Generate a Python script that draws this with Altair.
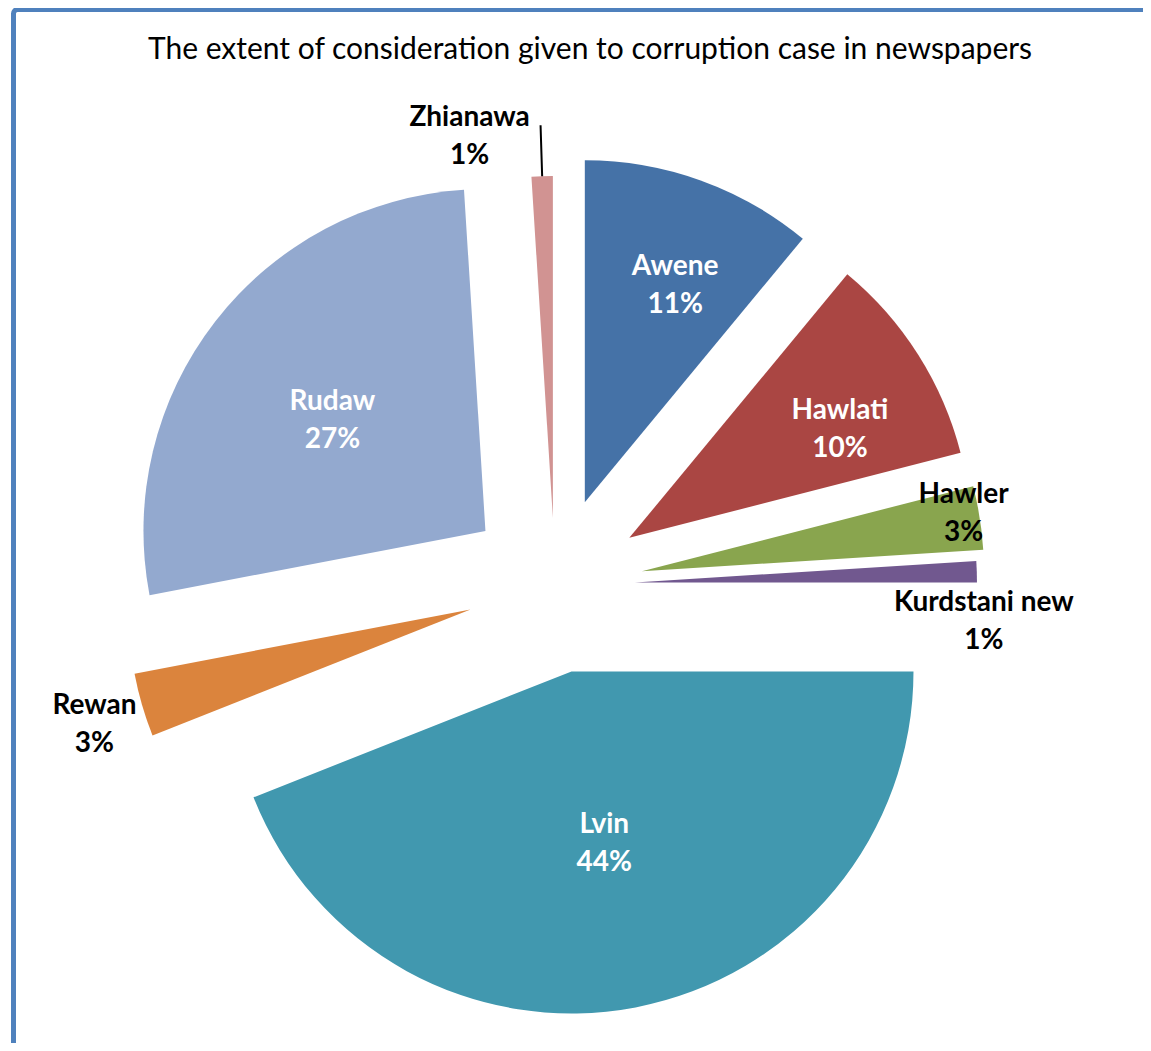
import altair as alt
import pandas as pd

# ---- data ----
CATEGORIES = ["Awene", "Hawlati", "Hawler", "Kurdstani new", "Lvin", "Rewan", "Rudaw", "Zhianawa"]
VALUES = [11, 10, 3, 1, 44, 3, 27, 1]
TITLE = "The extent of consideration given to corruption case in newspapers"

# ---- styles ----
COLORS = ["#4572A7", "#AA4643", "#89A54E", "#71588F", "#4198AF", "#DB843D", "#93A9CF", "#D19392"]
EXPLODE = [88, 88, 88, 80, 88, 88, 88, 67]          # px offset of each slice
LABEL_R = [235, 237, 327, 351, 175, 393, 189, 391]  # label distance from slice tip
LABEL_DT = [2.8, 5.1, -1.3, 8.1, 0, -0.7, -1.9, -10.5]  # label angle nudge (deg)
LABEL_COLOR = ["white", "white", "black", "black", "white", "black", "white", "black"]
LEADER = [0, 0, 0, 0, 0, 0, 0, 1]
CX, CY, R = 547, 577, 342
W, H = 1135, 1035
FONT = "Lato"

df = pd.DataFrame({
    "order": list(range(len(CATEGORIES))),
    "cat": CATEGORIES,
    "value": VALUES,
    "explode": EXPLODE,
    "lr": LABEL_R,
    "ldt": LABEL_DT,
    "lcolor": LABEL_COLOR,
    "leader": LEADER,
})

base = alt.Chart(df).transform_window(
    cum="sum(value)", sort=[alt.SortField("order")], frame=[None, 0]
).transform_joinaggregate(
    total="sum(value)"
).transform_calculate(
    t0="(datum.cum - datum.value) / datum.total * 2 * PI",
    t1="datum.cum / datum.total * 2 * PI",
).transform_calculate(
    mid="(datum.t0 + datum.t1) / 2",
).transform_calculate(
    px=f"{CX} + datum.explode * sin(datum.mid)",
    py=f"{CY} - datum.explode * cos(datum.mid)",
    ltheta="datum.mid + datum.ldt * PI / 180",
    label="[datum.cat, datum.value + '%']",
)

arcs = base.mark_arc(outerRadius=R, innerRadius=0).encode(
    theta=alt.Theta("t0:Q", scale=None, stack=None),
    theta2="t1:Q",
    x=alt.X("px:Q", scale=None),
    y=alt.Y("py:Q", scale=None),
    color=alt.Color("cat:N", scale=alt.Scale(domain=CATEGORIES, range=COLORS), legend=None),
)

labels = base.mark_text(
    font=FONT, fontSize=28, fontWeight="bold", lineHeight=38,
    align="center", baseline="middle", dy=-18,
).encode(
    x=alt.X("px:Q", scale=None),
    y=alt.Y("py:Q", scale=None),
    theta=alt.Theta("ltheta:Q", scale=None, stack=None),
    radius=alt.Radius("lr:Q", scale=None),
    text=alt.Text("label:N"),
    color=alt.Color("lcolor:N", scale=None),
)

leader = base.transform_filter("datum.leader == 1").transform_calculate(
    lx1=f"datum.px + {R} * sin(datum.mid)",
    ly1=f"datum.py - {R} * cos(datum.mid)",
    lx2=f"datum.px + {R + 51} * sin(datum.mid)",
    ly2=f"datum.py - {R + 51} * cos(datum.mid)",
).mark_rule(color="black", strokeWidth=2).encode(
    x=alt.X("lx1:Q", scale=None),
    y=alt.Y("ly1:Q", scale=None),
    x2="lx2:Q",
    y2="ly2:Q",
)

title = alt.Chart(pd.DataFrame({"t": [TITLE]})).mark_text(
    font=FONT, fontSize=30, align="center", baseline="middle", color="black"
).encode(text="t:N", x=alt.value(582), y=alt.value(42))

frame = alt.Chart(pd.DataFrame({"a": [0]})).mark_rect(
    fill="transparent", stroke="#4F81BD", strokeWidth=5, cornerRadius=4
).encode(x=alt.value(5.5), y=alt.value(1.5), x2=alt.value(1400), y2=alt.value(1400))

chart = alt.layer(frame, arcs, leader, labels, title).properties(
    width=W, height=H, autosize=alt.AutoSizeParams(type="none"), padding=0
).configure_view(stroke=None)

chart.save("out.html", embed_options={"renderer": "svg", "actions": False})
